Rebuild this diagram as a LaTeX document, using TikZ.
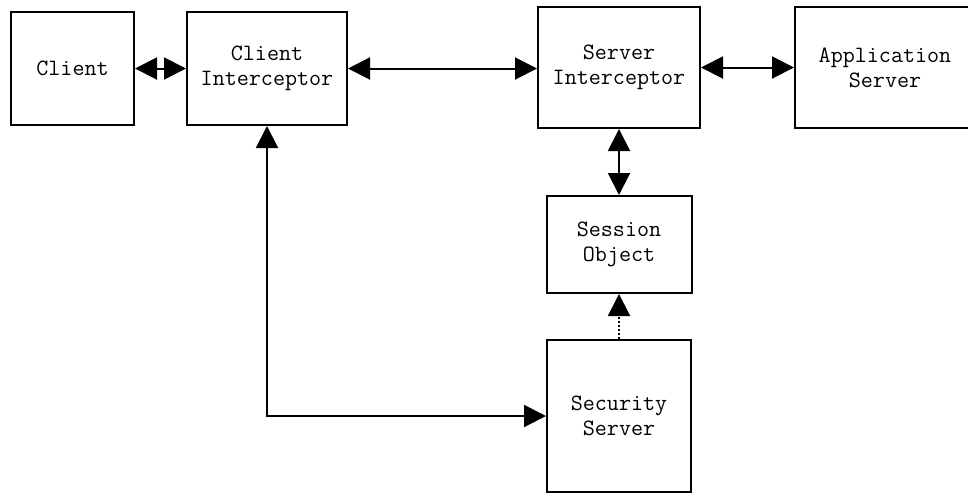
\documentclass[tikz,border=0pt]{standalone}
\usepackage{tikz}
\usetikzlibrary{arrows.meta}
\tikzstyle{block} = [draw, line width=1pt, inner sep=0pt, align=center, font=\ttfamily\fontsize{11.7pt}{12.5pt}\selectfont]
\tikzstyle{arrow} = [line width=1pt, {Triangle[length=11pt, width=11pt]}-{Triangle[length=11pt, width=11pt]}]
\tikzstyle{oneway} = [line width=1pt, -{Triangle[length=11pt, width=11pt]}]

\begin{document}
\begin{tikzpicture}[x=0.5pt, y=-0.5pt]
	\useasboundingbox (0,0) rectangle (968,494);
	\node[block, minimum width=61.5pt, minimum height=56.5pt](client) at (72.5, 68.5){Client};
	\node[block, minimum width=80pt, minimum height=56.5pt](cint) at (267, 68.5){Client\\Interceptor};
	\node[block, minimum width=81pt, minimum height=60.5pt](sint) at (619, 67.5){Server\\Interceptor};
	\node[block, minimum width=90pt, minimum height=60.5pt](appsrv) at (885, 67.5){Application\\Server};
	\node[block, minimum width=72.5pt, minimum height=48.5pt](sobj) at (619, 244.5){Session\\Object};
	\node[block, minimum width=72pt, minimum height=76pt](secsrv) at (619, 416){Security\\Server};

	\draw[arrow](client) -- (cint);
	\draw[arrow](cint.east) -- (cint.east -| sint.west);
	\draw[arrow](sint) -- (appsrv);
	\draw[arrow](sint) -- (sobj);
	\draw[oneway, dash pattern=on 1pt off 1pt](secsrv) -- (sobj);
	\draw[arrow](cint.south) |- (secsrv.west);
\end{tikzpicture}
\end{document}
